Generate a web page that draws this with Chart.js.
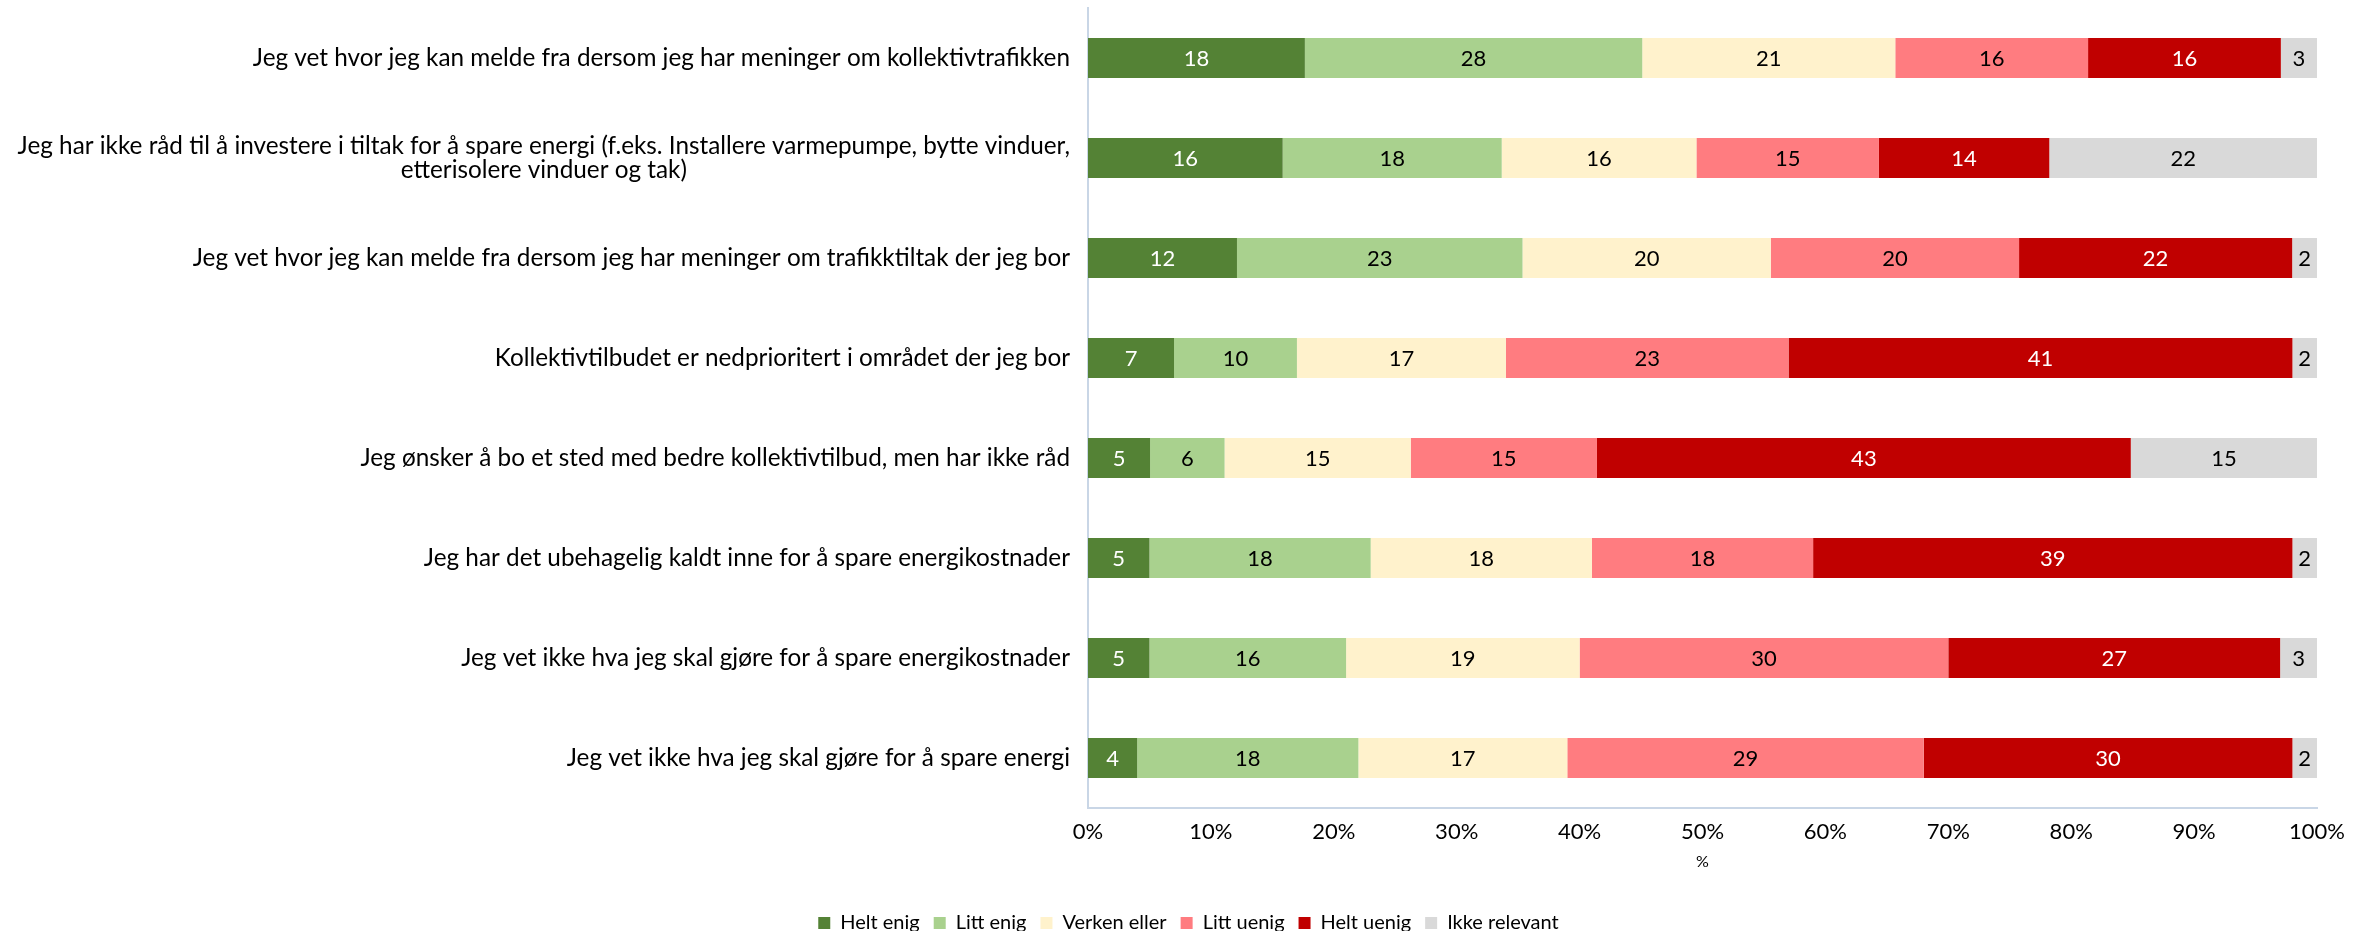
<!DOCTYPE html>
<html>
<head>
<meta charset="utf-8">
<script src="https://cdn.jsdelivr.net/npm/chart.js@4.4.1/dist/chart.umd.min.js"></script>
<style>
  html, body { margin: 0; padding: 0; background: #fff; overflow: hidden; }
  /* litt høyere enn vinduet, så nederste kant av forklaringen kuttes */
  #wrap { width: 2377px; height: 943px; position: relative; }
</style>
</head>
<body>
<div id="wrap"><canvas id="grafico"></canvas></div>
<script>
const spm = [
    ['Jeg vet hvor jeg kan melde fra dersom jeg har meninger om kollektivtrafikken'],
    ['Jeg har ikke råd til å investere i tiltak for å spare energi (f.eks. Installere varmepumpe, bytte vinduer,', 'etterisolere vinduer og tak)'],
    ['Jeg vet hvor jeg kan melde fra dersom jeg har meninger om trafikktiltak der jeg bor'],
    ['Kollektivtilbudet er nedprioritert i området der jeg bor'],
    ['Jeg ønsker å bo et sted med bedre kollektivtilbud, men har ikke råd'],
    ['Jeg har det ubehagelig kaldt inne for å spare energikostnader'],
    ['Jeg vet ikke hva jeg skal gjøre for å spare energikostnader'],
    ['Jeg vet ikke hva jeg skal gjøre for å spare energi']
];

const svar = ['Helt enig', 'Litt enig', 'Verken eller', 'Litt uenig', 'Helt uenig', 'Ikke relevant'];
const farger = ['#548235', '#A9D18E', '#FFF2CC', '#FF7C80', '#C00000', '#D9D9D9'];

// prosent per svaralternativ, én rad per påstand
const heltEnig     = [18, 16, 12, 7, 5, 5, 5, 4];
const littEnig     = [28, 18, 23, 10, 6, 18, 16, 18];
const verkenEller  = [21, 16, 20, 17, 15, 18, 19, 17];
const littUenig    = [16, 15, 20, 23, 15, 18, 30, 29];
const heltUenig    = [16, 14, 22, 41, 43, 39, 27, 30];
const ikkeRelevant = [3, 22, 2, 2, 15, 2, 3, 2];

const xTicks = [0, 10, 20, 30, 40, 50, 60, 70, 80, 90, 100];

const serier = [heltEnig, littEnig, verkenEller, littUenig, heltUenig, ikkeRelevant];
// hver rad fylles ut til 100 %
const summer = spm.map((_, i) => serier.reduce((s, a) => s + a[i], 0));

const FONT = 'Lato, "Noto Sans", sans-serif';

// tekst på y-aksen: blokken høyrejustert, linjene sentrert i blokken
const yTekst = {
    id: 'yTekst',
    afterDraw(chart) {
        const c = chart.ctx;
        const y = chart.scales.y;
        const right = y.right - 18;
        c.save();
        c.font = '24.3px ' + FONT;
        c.fillStyle = '#000';
        c.textAlign = 'center';
        c.textBaseline = 'middle';
        spm.forEach((linjer, i) => {
            const midt = y.getPixelForTick(i);
            const maks = Math.max(...linjer.map(l => c.measureText(l).width));
            const lh = 24.5;
            linjer.forEach((l, j) => {
                c.fillText(l, right - maks / 2, midt + (j - (linjer.length - 1) / 2) * lh);
            });
        });
        c.restore();
    }
};

// verdiene midt i hvert segment
const verdier = {
    id: 'verdier',
    afterDatasetsDraw(chart) {
        const c = chart.ctx;
        c.save();
        c.font = '22px ' + FONT;
        c.textAlign = 'center';
        c.textBaseline = 'middle';
        chart.data.datasets.forEach((ds, d) => {
            const meta = chart.getDatasetMeta(d);
            c.fillStyle = (d === 0 || d === 4) ? '#fff' : '#000';
            meta.data.forEach((bar, i) => {
                c.fillText(String(serier[d][i]), (bar.x + bar.base) / 2, bar.y + 1);
            });
        });
        c.restore();
    }
};

const ctx = document.getElementById('grafico').getContext('2d');

new Chart(ctx, {
    type: 'bar',
    data: {
        labels: spm,
        datasets: svar.map((navn, d) => ({
            label: navn,
            data: serier[d].map((v, i) => v / summer[i] * 100),
            backgroundColor: farger[d],
            borderWidth: 0,
            barPercentage: 0.8,
            categoryPercentage: 0.5
        }))
    },
    options: {
        indexAxis: 'y',
        responsive: true,
        maintainAspectRatio: false,
        devicePixelRatio: 1,
        animation: false,
        layout: { padding: { top: 8, right: 60, bottom: 0, left: 60 } },
        scales: {
            x: {
                stacked: true,
                min: 0,
                max: 100,
                afterBuildTicks: (s) => { s.ticks = xTicks.map(v => ({ value: v })); },
                afterFit: (s) => { s.height = 91; },
                grid: { display: false },
                border: { display: true, color: '#C9D6E6', width: 2 },
                ticks: {
                    callback: (v) => v + '%',
                    color: '#000',
                    font: { family: FONT, size: 22 },
                    padding: 3,
                    maxRotation: 0
                },
                title: {
                    display: true,
                    text: '%',
                    color: '#000',
                    font: { family: FONT, size: 16 },
                    padding: { top: 0, bottom: 28 }
                }
            },
            y: {
                stacked: true,
                grid: { display: false },
                border: { display: true, color: '#C9D6E6', width: 2 },
                ticks: { display: false },
                afterFit: (s) => { s.width = 1028; }
            }
        },
        plugins: {
            legend: {
                position: 'bottom',
                labels: {
                    color: '#000',
                    font: { family: FONT, size: 20 },
                    boxWidth: 12,
                    boxHeight: 12,
                    padding: 14
                }
            },
            tooltip: { enabled: false }
        }
    },
    plugins: [yTekst, verdier]
});
</script>
</body>
</html>
